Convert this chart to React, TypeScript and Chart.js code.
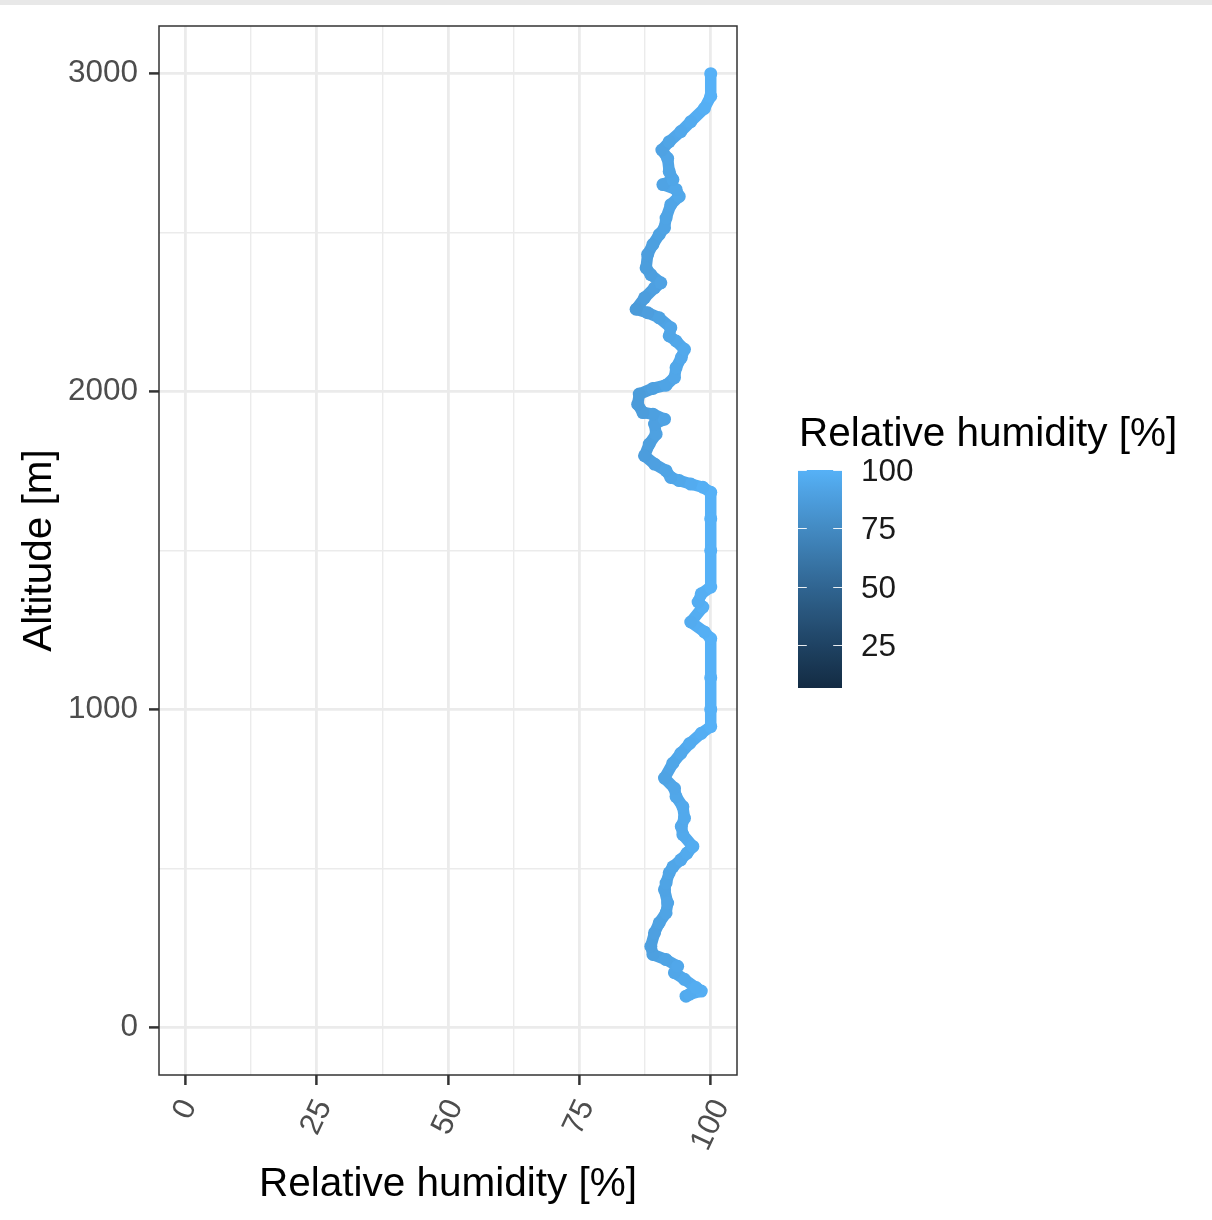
import React, { useEffect, useRef } from "react";
import { Chart, registerables } from "chart.js";

Chart.register(...registerables);

// Altitude [m] (ascending) and relative humidity [%]
const altitude = [
  98, 104, 114, 125, 151, 172, 192, 213, 229, 255, 297, 329, 360, 391, 433, 454, 486, 505, 527, 548,
  569, 606, 632, 658, 694, 726, 752, 784, 831, 862, 893, 925, 946, 1000, 1100, 1223, 1244, 1275, 1322, 1338,
  1364, 1385, 1500, 1600, 1683, 1699, 1709, 1720, 1730, 1751, 1772, 1798, 1835, 1866, 1898, 1913, 1929, 1934, 1960, 1992,
  2010, 2020, 2044, 2075, 2107, 2133, 2159, 2175, 2201, 2232, 2248, 2259, 2295, 2326, 2342, 2368, 2389, 2432, 2463, 2494,
  2515, 2546, 2588, 2614, 2636, 2651, 2667, 2692, 2734, 2760, 2786, 2818, 2849, 2891, 2929, 3000,
];
const humidity = [
  95.3, 96.0, 98.2, 97.2, 95.0, 93.1, 93.7, 91.5, 89.0, 88.6, 89.3, 90.2, 91.5, 91.8, 91.2, 91.5, 92.1, 92.8, 94.3, 95.5,
  96.6, 94.7, 94.4, 95.0, 94.7, 93.4, 93.1, 91.2, 92.8, 94.3, 96.0, 98.2, 100, 100, 100, 100, 98.8, 96.2, 98.5, 97.6,
  98.2, 100, 100, 100, 100, 98.5, 96.2, 94.0, 92.4, 91.5, 89.3, 87.4, 88.3, 89.6, 89.3, 91.2, 89.0, 87.1, 86.1, 86.4,
  89.0, 91.5, 93.1, 93.4, 94.4, 95.0, 93.4, 92.1, 92.4, 90.2, 88.0, 85.8, 87.4, 89.3, 90.5, 88.6, 87.7, 88.0, 89.0, 90.2,
  91.2, 91.5, 92.4, 94.0, 93.4, 90.9, 92.8, 92.1, 91.8, 90.7, 92.1, 94.3, 96.2, 98.8, 100, 100,
];

const xTickValues = [0, 25, 50, 75, 100];
const xMinorValues = [12.5, 37.5, 62.5, 87.5];
const yTickValues = [0, 1000, 2000, 3000];
const yMinorValues = [500, 1500, 2500];
const legendTicks = [25, 50, 75, 100];
const colorMin = 6.5;
const colorMax = 100;
const lowColor = "#132B43";
const highColor = "#56B1F7";

const xTitle = "Relative humidity [%]";
const yTitle = "Altitude [m]";
const legendTitle = "Relative humidity [%]";

const FONT = '"Liberation Sans", Arial, Helvetica, sans-serif';

// ---- Lab colour interpolation (like ggplot's seq_gradient_pal) ----
function hexToRgb(h: string) {
  const n = parseInt(h.slice(1), 16);
  return [(n >> 16) & 255, (n >> 8) & 255, n & 255];
}
function toLin(c: number) {
  c /= 255;
  return c <= 0.04045 ? c / 12.92 : Math.pow((c + 0.055) / 1.055, 2.4);
}
function fromLin(c: number) {
  const v = c <= 0.0031308 ? 12.92 * c : 1.055 * Math.pow(c, 1 / 2.4) - 0.055;
  return Math.max(0, Math.min(255, Math.round(v * 255)));
}
const Xn = 0.95047, Yn = 1, Zn = 1.08883;
function rgbToLab(rgb: number[]) {
  const r = toLin(rgb[0]), g = toLin(rgb[1]), b = toLin(rgb[2]);
  const X = 0.4124564 * r + 0.3575761 * g + 0.1804375 * b;
  const Y = 0.2126729 * r + 0.7151522 * g + 0.072175 * b;
  const Z = 0.0193339 * r + 0.119192 * g + 0.9503041 * b;
  const f = (t: number) => (t > 0.008856 ? Math.cbrt(t) : 7.787 * t + 16 / 116);
  const fx = f(X / Xn), fy = f(Y / Yn), fz = f(Z / Zn);
  return [116 * fy - 16, 500 * (fx - fy), 200 * (fy - fz)];
}
function labToRgb(lab: number[]) {
  const fy = (lab[0] + 16) / 116;
  const fx = lab[1] / 500 + fy;
  const fz = fy - lab[2] / 200;
  const finv = (t: number) => (t * t * t > 0.008856 ? t * t * t : (t - 16 / 116) / 7.787);
  const X = Xn * finv(fx), Y = Yn * finv(fy), Z = Zn * finv(fz);
  const r = 3.2404542 * X - 1.5371385 * Y - 0.4985314 * Z;
  const g = -0.969266 * X + 1.8760108 * Y + 0.041556 * Z;
  const b = 0.0556434 * X - 0.2040259 * Y + 1.0572252 * Z;
  return `rgb(${fromLin(r)},${fromLin(g)},${fromLin(b)})`;
}
const labLow = rgbToLab(hexToRgb(lowColor));
const labHigh = rgbToLab(hexToRgb(highColor));
function colorFor(v: number) {
  const t = Math.max(0, Math.min(1, (v - colorMin) / (colorMax - colorMin)));
  return labToRgb([0, 1, 2].map((i) => labLow[i] + (labHigh[i] - labLow[i]) * t));
}

const decorPlugin = {
  id: "decor",
  afterDraw(chart: any) {
    const ctx = chart.ctx as CanvasRenderingContext2D;
    const area = chart.chartArea;
    const xs = chart.scales.x;
    ctx.save();
    // panel border
    ctx.strokeStyle = "#333333";
    ctx.lineWidth = 1.5;
    ctx.strokeRect(area.left, area.top, area.right - area.left, area.bottom - area.top);

    // rotated x tick labels
    const ang = (65 * Math.PI) / 180;
    ctx.font = `31px ${FONT}`;
    ctx.fillStyle = "#4D4D4D";
    const capH = 22;
    xTickValues.forEach((v) => {
      const label = String(v);
      const w = ctx.measureText(label).width;
      const px = xs.getPixelForValue(v);
      const boxH = w * Math.sin(ang) + capH * Math.cos(ang);
      const cy = area.bottom + 22 + boxH / 2;
      ctx.save();
      ctx.translate(px, cy);
      ctx.rotate(-ang);
      ctx.textAlign = "center";
      ctx.textBaseline = "middle";
      ctx.fillText(label, 0, 0);
      ctx.restore();
    });

    // axis titles
    ctx.fillStyle = "#000000";
    ctx.font = `40.5px ${FONT}`;
    ctx.textAlign = "center";
    ctx.textBaseline = "alphabetic";
    ctx.fillText(xTitle, (area.left + area.right) / 2, 1196);
    ctx.save();
    ctx.translate(51, (area.top + area.bottom) / 2);
    ctx.rotate(-Math.PI / 2);
    ctx.fillText(yTitle, 0, 0);
    ctx.restore();

    // legend (colour bar)
    const bx = 798, bw = 44, btop = 470, bbot = 688;
    const grad = ctx.createLinearGradient(0, bbot, 0, btop);
    for (let i = 0; i <= 20; i++) {
      const t = i / 20;
      grad.addColorStop(t, colorFor(colorMin + t * (colorMax - colorMin)));
    }
    ctx.fillStyle = grad;
    ctx.fillRect(bx, btop, bw, bbot - btop);
    const yFor = (v: number) => bbot - ((v - colorMin) / (colorMax - colorMin)) * (bbot - btop);
    ctx.strokeStyle = "rgba(255,255,255,0.9)";
    ctx.lineWidth = 1;
    legendTicks.forEach((v) => {
      const y = Math.round(yFor(v)) + 0.5;
      ctx.beginPath();
      ctx.moveTo(bx, y);
      ctx.lineTo(bx + bw / 5, y);
      ctx.moveTo(bx + bw - bw / 5, y);
      ctx.lineTo(bx + bw, y);
      ctx.stroke();
    });
    ctx.fillStyle = "#000000";
    ctx.textAlign = "left";
    ctx.font = `40.5px ${FONT}`;
    ctx.fillText(legendTitle, 799, 446);
    ctx.font = `31.5px ${FONT}`;
    ctx.fillStyle = "#1A1A1A";
    legendTicks.forEach((v) => {
      ctx.fillText(String(v), 861, yFor(v) + 11);
    });
    ctx.restore();
  },
};

export default function App() {
  const ref = useRef<HTMLCanvasElement | null>(null);
  useEffect(() => {
    document.body.style.margin = "0";
    const canvas = ref.current!;
    const points = altitude.map((a, i) => ({ x: humidity[i], y: a }));
    const chart = new Chart(canvas, {
      type: "line",
      data: {
        datasets: [
          {
            data: points,
            borderWidth: 11.5,
            borderCapStyle: "round",
            borderJoinStyle: "round",
            borderColor: highColor,
            pointRadius: 6.5,
            pointBorderWidth: 0,
            pointBackgroundColor: (c: any) => colorFor(c.parsed ? c.parsed.x : 100),
            tension: 0,
            segment: {
              borderColor: (c: any) => colorFor((c.p0.parsed.x + c.p1.parsed.x) / 2),
              borderWidth: 11.5,
            },
          } as any,
        ],
      },
      plugins: [decorPlugin],
      options: {
        animation: false,
        responsive: false,
        devicePixelRatio: 1,
        layout: { padding: { left: 0, top: 26, right: 475, bottom: 0 } },
        plugins: { legend: { display: false }, tooltip: { enabled: false } },
        scales: {
          x: {
            type: "linear",
            min: -5,
            max: 105,
            afterBuildTicks: (s: any) => {
              s.ticks = [...xTickValues, ...xMinorValues].sort((a, b) => a - b).map((v) => ({ value: v }));
            },
            afterFit: (s: any) => {
              s.height = 145;
              s.paddingLeft = 0;
              s.paddingRight = 0;
            },
            ticks: { display: false },
            grid: {
              color: "#EBEBEB",
              lineWidth: (c: any) => (xTickValues.includes(c.tick?.value) ? 2.8 : 1.4),
              tickColor: (c: any) => (xTickValues.includes(c.tick?.value) ? "#333333" : "rgba(0,0,0,0)"),
              tickWidth: 2.5,
              tickLength: 10,
            },
            border: { display: false },
          },
          y: {
            type: "linear",
            min: -150,
            max: 3150,
            afterBuildTicks: (s: any) => {
              s.ticks = [...yTickValues, ...yMinorValues].sort((a, b) => a - b).map((v) => ({ value: v }));
            },
            afterFit: (s: any) => {
              s.width = 159;
              s.paddingTop = 0;
              s.paddingBottom = 0;
            },
            ticks: {
              color: "#4D4D4D",
              font: { family: FONT, size: 31.5 },
              padding: 11,
              callback: (v: any) => (yTickValues.includes(Number(v)) ? String(v) : ""),
            },
            grid: {
              color: "#EBEBEB",
              lineWidth: (c: any) => (yTickValues.includes(c.tick?.value) ? 2.8 : 1.4),
              tickColor: (c: any) => (yTickValues.includes(c.tick?.value) ? "#333333" : "rgba(0,0,0,0)"),
              tickWidth: 2.5,
              tickLength: 10,
            },
            border: { display: false },
          },
        },
      },
    });
    return () => chart.destroy();
  }, []);

  return (
    <div style={{ position: "absolute", left: 0, top: 0, width: 1212, height: 1220, background: "#ffffff" }}>
      <div style={{ position: "absolute", left: 0, top: 0, width: 1212, height: 5, background: "#E8E8E8" }} />
      <canvas ref={ref} width={1212} height={1220} style={{ position: "absolute", left: 0, top: 0, width: 1212, height: 1220 }} />
    </div>
  );
}
